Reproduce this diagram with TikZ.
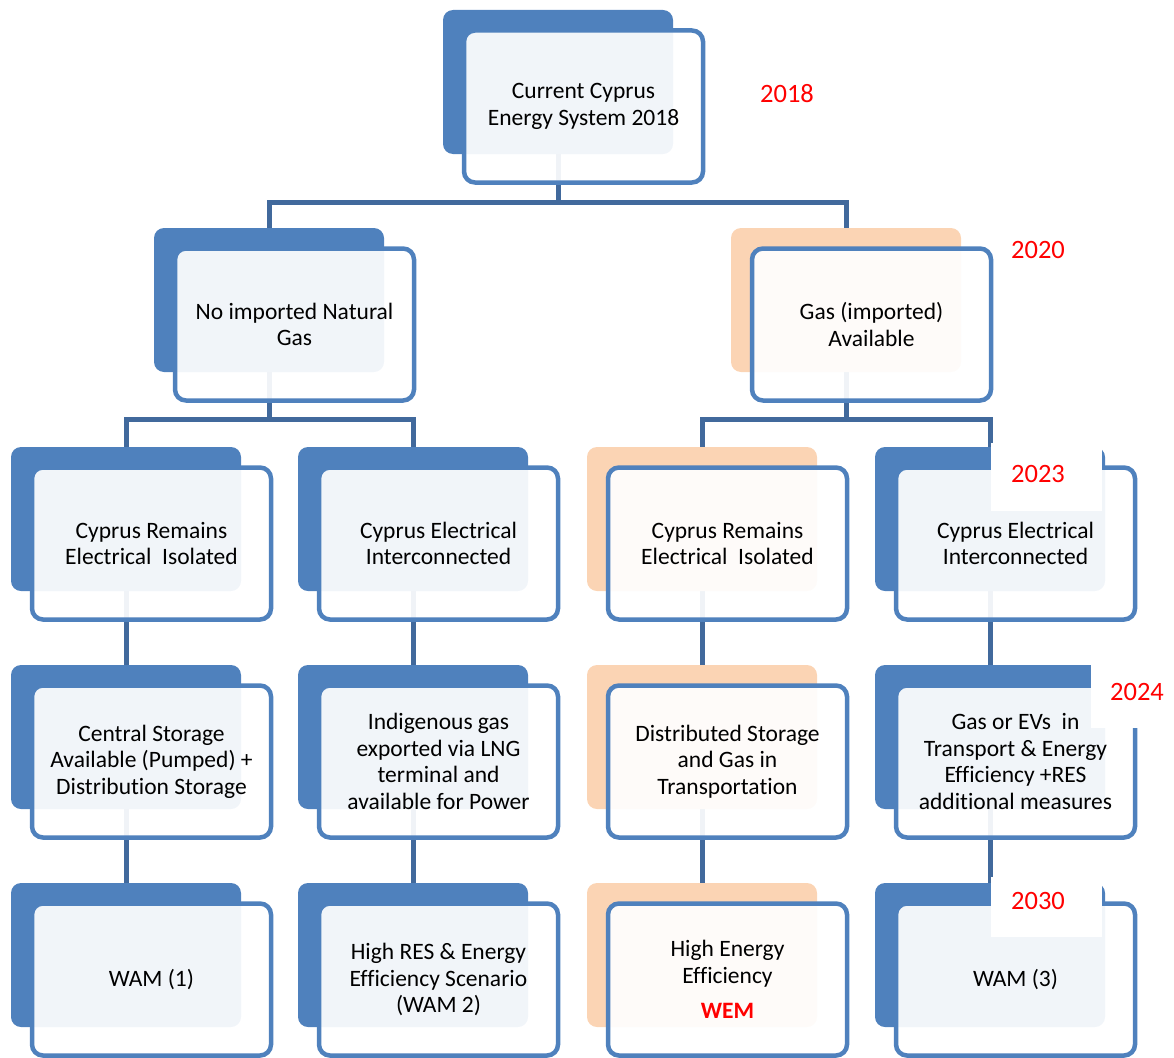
\documentclass[tikz,border=0pt]{standalone}
\usepackage{fontspec}
\setmainfont{Carlito}[Ligatures=NoCommon]
\usepackage{tikz}
\usetikzlibrary{positioning,backgrounds,calc}
\definecolor{cardblue}{HTML}{4F81BD}
\definecolor{cardpeach}{HTML}{FBD4B4}
\definecolor{linkblue}{HTML}{41699C}
\definecolor{yearred}{HTML}{FF0000}

\begin{document}
\begin{tikzpicture}[
  x=1pt,y=-1pt,
  every node/.style={font=\fontsize{23.5}{26.5}\selectfont},
  backcard/.style={rectangle,rounded corners=10pt,fill=cardblue,minimum width=230pt,minimum height=144pt,inner sep=0pt},
  backpeach/.style={backcard,fill=cardpeach},
  frontcard/.style={rectangle,rounded corners=11pt,draw=cardblue,line width=4.5pt,fill=white,fill opacity=0.92,draw opacity=1,text opacity=1,minimum width=239pt,minimum height=152pt,inner sep=0pt,align=center},
  year/.style={text=yearred,font=\fontsize{26.5}{30}\selectfont},
  link/.style={draw=linkblue,line width=5pt}
]
\useasboundingbox (0,0) rectangle (1174,1057);

% level 0
\node[backcard] (sysbg) at (558,82) {};
\node[frontcard] (sys) at ([shift={(25.5,24.5)}]sysbg.center) {Current Cyprus\\Energy System 2018};

% level 1
\node[backcard] (nogasbg) at (269,300) {};
\node[frontcard] (nogas) at ([shift={(25.5,24.5)}]nogasbg.center) {No imported Natural\\Gas};
\node[backpeach] (gasbg) at (846,300) {};
\node[frontcard] (gas) at ([shift={(25.5,24.5)}]gasbg.center) {Gas (imported)\\Available};

% level 2
\node[backcard] (iso1bg) at (126,519) {};
\node[frontcard] (iso1) at ([shift={(25.5,24.5)}]iso1bg.center) {Cyprus Remains\\Electrical\ \ Isolated};
\node[backcard] (int1bg) at (413,519) {};
\node[frontcard] (int1) at ([shift={(25.5,24.5)}]int1bg.center) {Cyprus Electrical\\Interconnected};
\node[backpeach] (iso2bg) at (702,519) {};
\node[frontcard] (iso2) at ([shift={(25.5,24.5)}]iso2bg.center) {Cyprus Remains\\Electrical\ \ Isolated};
\node[backcard] (int2bg) at (990,519) {};
\node[frontcard] (int2) at ([shift={(25.5,24.5)}]int2bg.center) {Cyprus Electrical\\Interconnected};

% level 3
\node[backcard] (stor1bg) at (126,737) {};
\node[frontcard] (stor1) at ([shift={(25.5,24.5)}]stor1bg.center) {Central Storage\\Available (Pumped) +\\Distribution Storage};
\node[backcard] (lngbg) at (413,737) {};
\node[frontcard] (lng) at ([shift={(25.5,24.5)}]lngbg.center) {Indigenous gas\\exported via LNG\\terminal and\\available for Power};
\node[backpeach] (stor2bg) at (702,737) {};
\node[frontcard] (stor2) at ([shift={(25.5,24.5)}]stor2bg.center) {Distributed Storage\\and Gas in\\Transportation};
\node[backcard] (evsbg) at (990,737) {};
\node[frontcard] (evs) at ([shift={(25.5,24.5)}]evsbg.center) {Gas or EVs\ \ in\\Transport \& Energy\\Efficiency +RES\\additional measures};

% level 4
\node[backcard] (wam1bg) at (126,955) {};
\node[frontcard] (wam1) at ([shift={(25.5,24.5)}]wam1bg.center) {WAM (1)};
\node[backcard] (wam2bg) at (413,955) {};
\node[frontcard] (wam2) at ([shift={(25.5,24.5)}]wam2bg.center) {High RES \& Energy\\Efficiency Scenario\\(WAM 2)};
\node[backpeach] (wembg) at (702,955) {};
\node[frontcard] (wem) at ([shift={(25.5,24.5)}]wembg.center) {High Energy\\Efficiency\\[9pt]\textcolor{yearred}{\textbf{WEM}}};
\node[backcard] (wam3bg) at (990,955) {};
\node[frontcard] (wam3) at ([shift={(25.5,24.5)}]wam3bg.center) {WAM (3)};

% year labels
\fill[white] (991,443) rectangle (1102,511);
\fill[white] (1091,655) rectangle (1174,728);
\fill[white] (991,877) rectangle (1102,937);
\node[year] (y2018) at (787,94) {2018};
\node[year] (y2020) at (1038,250) {2020};
\node[year] (y2023) at (1038,474) {2023};
\node[year] (y2024) at (1137,692) {2024};
\node[year] (y2030) at (1038,901) {2030};

% connectors
\begin{scope}[on background layer]
\draw[link] (sysbg.south) -- ++(0,48) -| (nogasbg.north);
\draw[link] (sysbg.south) -- ++(0,48) -| (gasbg.north);
\draw[link] (nogasbg.south) -- ++(0,47) -| (iso1bg.north);
\draw[link] (nogasbg.south) -- ++(0,47) -| (int1bg.north);
\draw[link] (gasbg.south) -- ++(0,47) -| (iso2bg.north);
\draw[link] (gasbg.south) -- ++(0,47) -| (int2bg.north);
\draw[link] (iso1bg) -- (stor1bg);
\draw[link] (stor1bg) -- (wam1bg);
\draw[link] (int1bg) -- (lngbg);
\draw[link] (lngbg) -- (wam2bg);
\draw[link] (iso2bg) -- (stor2bg);
\draw[link] (stor2bg) -- (wembg);
\draw[link] (int2bg) -- (evsbg);
\draw[link] (evsbg) -- (wam3bg);
\end{scope}
\end{tikzpicture}
\end{document}
